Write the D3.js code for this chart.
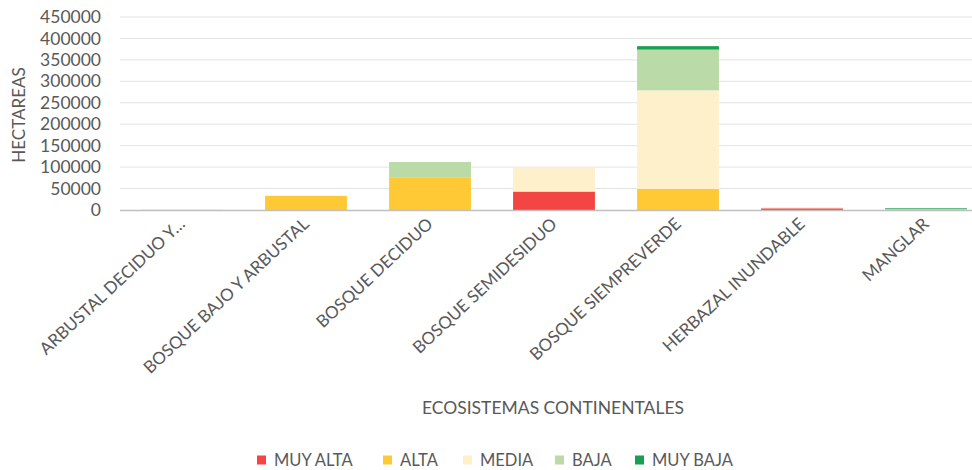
<!DOCTYPE html>
<html><head><meta charset="utf-8">
<script src="https://cdn.jsdelivr.net/npm/d3@7"></script>
<style>body{margin:0;background:#fff;}svg{display:block;font-family:Lato,"Open Sans",sans-serif;}</style>
</head><body><svg id="c" width="972" height="470"></svg>
<script>
const categories = ["ARBUSTAL DECIDUO Y…","BOSQUE BAJO Y ARBUSTAL","BOSQUE DECIDUO","BOSQUE SEMIDESIDUO","BOSQUE SIEMPREVERDE","HERBAZAL INUNDABLE","MANGLAR"];
const seriesNames = ["MUY ALTA","ALTA","MEDIA","BAJA","MUY BAJA"];
const muyAlta = [0, 0, 0, 43000, 0, 4000, 0];
const alta    = [300, 33000, 75000, 0, 49000, 0, 0];
const media   = [200, 0, 0, 55000, 230000, 2500, 0];
const baja    = [200, 0, 37000, 0, 95000, 0, 3000];
const muyBaja = [0, 0, 0, 0, 8000, 0, 1500];
const yTicks = [0,50000,100000,150000,200000,250000,300000,350000,400000,450000];
const colors = ["#F44545","#FFC935","#FFF0CC","#BADAA7","#17A04F"];

const svg = d3.select("#c");
const x = d3.scaleBand().domain(categories).range([120, 988]).paddingInner(0.34).paddingOuter(0.17);
const y = d3.scaleLinear().domain([0,450000]).range([210, 17]);

// gridlines
svg.append("g").selectAll("line").data(yTicks.slice(1)).join("line")
  .attr("x1",120).attr("x2",972).attr("y1",d=>y(d)).attr("y2",d=>y(d))
  .attr("stroke","#e3e3e3").attr("stroke-width",1);

// y axis labels
const yAxis = d3.axisLeft(y).tickValues(yTicks).tickSize(0).tickPadding(0).tickFormat(d3.format("d"));
const gy = svg.append("g").attr("transform","translate(101,0)").call(yAxis);
gy.select(".domain").remove();
gy.selectAll("text").attr("font-size",17.5).attr("fill","#595959").attr("font-family","Lato");

// stacked bars
const rows = categories.map((c,i)=>({cat:c, "MUY ALTA":muyAlta[i], "ALTA":alta[i], "MEDIA":media[i], "BAJA":baja[i], "MUY BAJA":muyBaja[i]}));
const stack = d3.stack().keys(seriesNames)(rows);
svg.append("g").selectAll("g").data(stack).join("g").attr("fill",(d,i)=>colors[i])
  .selectAll("rect").data(d=>d).join("rect")
  .attr("x",d=>x(d.data.cat)).attr("width",x.bandwidth())
  .attr("y",d=>y(d[1])).attr("height",d=>Math.max(0,y(d[0])-y(d[1])));

// baseline
svg.append("line").attr("x1",120).attr("x2",972).attr("y1",y(0)+0.5).attr("y2",y(0)+0.5).attr("stroke","#bfbfbf").attr("stroke-width",1.3);

// x axis labels
const xAxis = d3.axisBottom(x).tickSize(0).tickPadding(0);
const gx = svg.append("g").attr("transform","translate(0,221)").call(xAxis);
gx.select(".domain").remove();
gx.selectAll("text").attr("font-size",17).attr("fill","#595959").attr("font-family","Lato")
  .attr("text-anchor","end").attr("dy","0.35em").attr("y",0)
  .attr("transform","translate(0,0) rotate(-43)");

// axis titles
svg.append("text").attr("transform","translate(25,115) rotate(-90)").attr("text-anchor","middle")
  .attr("font-size",17).attr("fill","#595959").attr("font-family","Lato").text("HECTAREAS");
svg.append("text").attr("x",553).attr("y",414).attr("text-anchor","middle")
  .attr("font-size",17.5).attr("fill","#595959").attr("font-family","Lato").text("ECOSISTEMAS CONTINENTALES");

// legend
const legX = [257, 383, 463, 555, 635];
const leg = svg.append("g").selectAll("g").data(seriesNames).join("g")
  .attr("transform",(d,i)=>`translate(${legX[i]},460)`);
leg.append("rect").attr("x",0).attr("y",-4.5).attr("width",9).attr("height",9).attr("fill",(d,i)=>colors[i]);
leg.append("text").attr("x",17).attr("y",0).attr("dy","0.35em").attr("font-size",16.5)
  .attr("fill","#595959").attr("font-family","Lato").text(d=>d);
</script></body></html>
